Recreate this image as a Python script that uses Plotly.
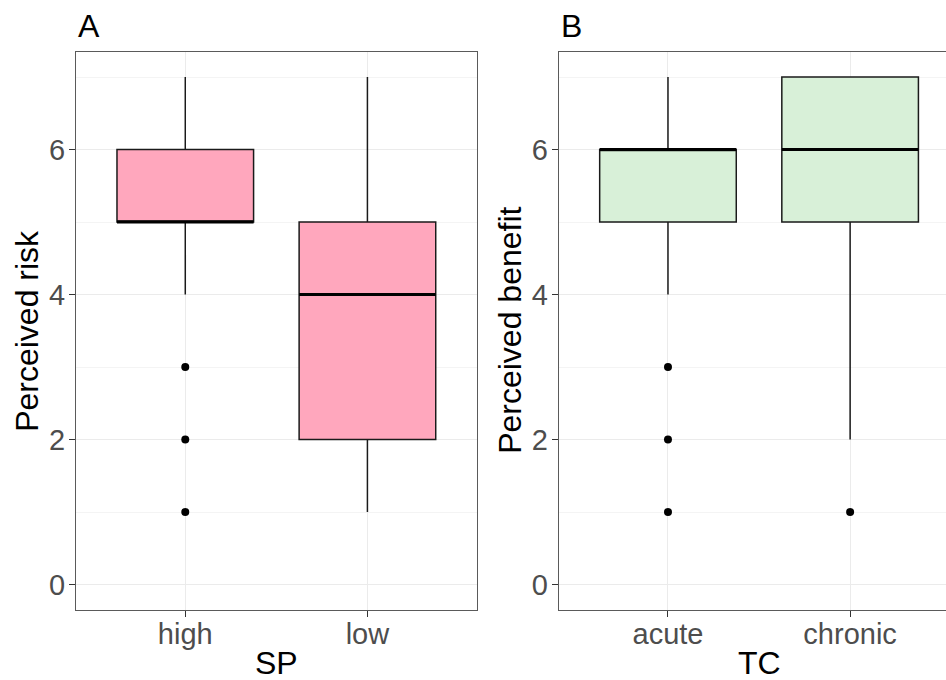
import plotly.graph_objects as go

# ---- data ----
sp_categories = ["high", "low"]
sp_lower = [4, 1]
sp_q1 = [5, 2]
sp_median = [5, 4]
sp_q3 = [6, 5]
sp_upper = [7, 7]
sp_outliers = [[1, 2, 3], []]

tc_categories = ["acute", "chronic"]
tc_lower = [4, 2]
tc_q1 = [5, 5]
tc_median = [6, 6]
tc_q3 = [6, 7]
tc_upper = [7, 7]
tc_outliers = [[1, 2, 3], [1]]

y_ticks = [0, 2, 4, 6]
y_minor = [1, 3, 5, 7]

PINK = "#FFA7BD"
GREEN = "#D8F0D8"
LINE = "#1A1A1A"
BOX_W = 0.75

W, H = 946, 680
fig = go.Figure()


def add_panel(cats, lo, q1, med, q3, up, outs, fill, xa, ya):
    pos = list(range(1, len(cats) + 1))
    for i, p in enumerate(pos):
        fig.add_trace(go.Box(
            x=[p], lowerfence=[lo[i]], q1=[q1[i]], median=[med[i]],
            q3=[q3[i]], upperfence=[up[i]], width=BOX_W,
            fillcolor=fill, line=dict(color=LINE, width=1.5),
            whiskerwidth=0, boxpoints=False, hoverinfo="skip",
            showlegend=False, xaxis=xa, yaxis=ya))
        # thicker median line (ggplot fatten)
        fig.add_trace(go.Scatter(
            x=[p - BOX_W / 2, p + BOX_W / 2], y=[med[i], med[i]],
            mode="lines", line=dict(color="black", width=3),
            showlegend=False, hoverinfo="skip", xaxis=xa, yaxis=ya))
        if outs[i]:
            fig.add_trace(go.Scatter(
                x=[p] * len(outs[i]), y=outs[i], mode="markers",
                marker=dict(color="black", size=8),
                showlegend=False, hoverinfo="skip", xaxis=xa, yaxis=ya))
    return pos


posA = add_panel(sp_categories, sp_lower, sp_q1, sp_median, sp_q3, sp_upper,
                 sp_outliers, PINK, "x", "y")
posB = add_panel(tc_categories, tc_lower, tc_q1, tc_median, tc_q3, tc_upper,
                 tc_outliers, GREEN, "x2", "y2")

axA_l, axA_r = 76.0, 476.7
axB_l = 558.7
unit = (axA_r - axA_l) / 2.2
axB_r = W
top_px, bot_px = 51.7, 610.0

ydom = [1 - bot_px / H, 1 - top_px / H]
tickfont = dict(family="Liberation Sans, Arial", size=29, color="#4D4D4D")

common_x = dict(
    tickmode="array", ticks="outside", ticklen=6, tickwidth=1.1,
    tickcolor="#333333", showgrid=True, gridcolor="#EBEBEB", gridwidth=1.1,
    zeroline=False, showline=True, linecolor="#5A5A5A", linewidth=1.1,
    tickfont=tickfont, fixedrange=True, automargin=False,
    ticklabelstandoff=-8,
)
common_y = dict(
    range=[-0.35, 7.35], tickmode="array", tickvals=y_ticks,
    ticktext=[str(v) for v in y_ticks], ticks="outside", ticklen=6,
    tickwidth=1.1, tickcolor="#333333", showgrid=True, gridcolor="#EBEBEB",
    gridwidth=1.1, zeroline=False, showline=True, linecolor="#5A5A5A",
    linewidth=1.1, tickfont=tickfont, domain=ydom, automargin=False,
    ticklabelstandoff=-2, fixedrange=True,
    minor=dict(tickvals=y_minor, showgrid=True, gridcolor="#F4F4F4",
               gridwidth=0.6, ticks=""),
)

fig.update_layout(
    width=W, height=H, margin=dict(l=0, r=0, t=0, b=0),
    paper_bgcolor="white", plot_bgcolor="white", showlegend=False,
    xaxis=dict(common_x, domain=[axA_l / W, axA_r / W], range=[0.4, 2.6],
               tickvals=posA, ticktext=sp_categories, mirror=True,
               anchor="y"),
    yaxis=dict(common_y, anchor="x", mirror=True),
    xaxis2=dict(common_x, domain=[axB_l / W, 1.0],
                range=[0.4, 0.4 + (axB_r - axB_l) / unit],
                tickvals=posB, ticktext=tc_categories, mirror=True,
                anchor="y2"),
    yaxis2=dict(common_y, anchor="x2"),
)

title_font = dict(family="Liberation Sans, Arial", size=32, color="black")
annots = [
    dict(text="A", x=axA_l / W, y=1 - 26 / H, xanchor="left", yanchor="middle"),
    dict(text="B", x=axB_l / W, y=1 - 26 / H, xanchor="left", yanchor="middle"),
    dict(text="SP", x=(axA_l + axA_r) / 2 / W, y=1 - 663 / H,
         xanchor="center", yanchor="middle"),
    dict(text="TC", x=(axB_l + axB_l + 2.2 * unit) / 2 / W, y=1 - 663 / H,
         xanchor="center", yanchor="middle"),
    dict(text="Perceived risk", x=27 / W, y=1 - (top_px + bot_px) / 2 / H,
         xanchor="center", yanchor="middle", textangle=-90),
    dict(text="Perceived benefit", x=510 / W, y=1 - (top_px + bot_px) / 2 / H,
         xanchor="center", yanchor="middle", textangle=-90),
]
for a in annots:
    fig.add_annotation(dict(a, xref="paper", yref="paper", showarrow=False,
                            font=title_font))

fig.write_html("out.html", config={"displayModeBar": False},
               post_script="document.body.style.margin='0';"
                           "document.body.style.overflow='hidden';")
